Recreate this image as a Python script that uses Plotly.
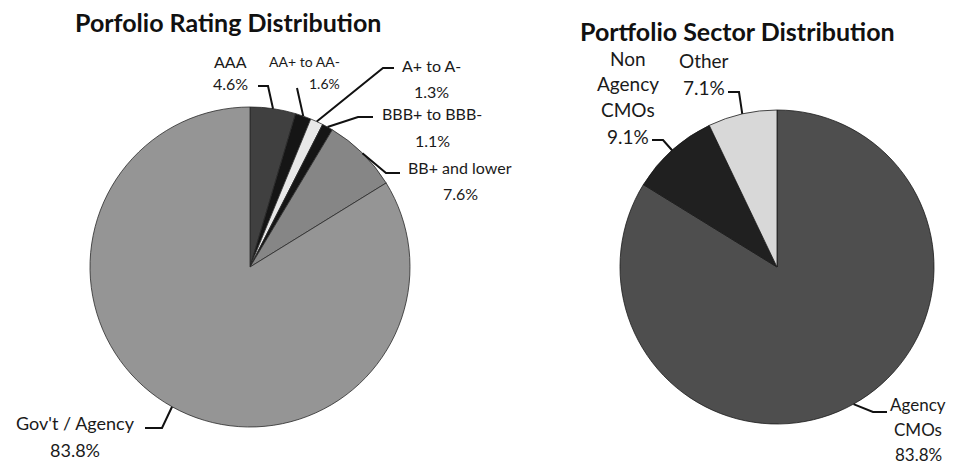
import math
import plotly.graph_objects as go

# ---------------- data ----------------
rating_labels = ["AAA", "AA+ to AA-", "A+ to A-", "BBB+ to BBB-", "BB+ and lower", "Gov't / Agency"]
rating_values = [4.6, 1.6, 1.3, 1.1, 7.6, 83.8]

sector_labels = ["Agency CMOs", "Non Agency CMOs", "Other"]
sector_values = [83.8, 9.1, 7.1]

titles = ["Porfolio Rating Distribution", "Portfolio Sector Distribution"]

# ---------------- layout constants ----------------
OFF = 8                      # default page body margin
W, H = 954 - OFF, 466 - OFF  # figure size so it fits the window
FONT = "Lato, 'Open Sans', sans-serif"
TXT = "#1a1a1a"

rating_colors = ["#404040", "#151515", "#e8e8e8", "#151515", "#868686", "#959595"]
sector_colors = ["#4e4e4e", "#202020", "#d8d8d8"]

# centres / radii in window pixels
L_C, L_R = (250, 267), 160
R_C, R_R = (777, 267), 157


def px(x):
    return (x - OFF) / W


def py(y):
    return 1 - (y - OFF) / H


def domain(c, r):
    return dict(x=[px(c[0] - r), px(c[0] + r)], y=[py(c[1] + r), py(c[1] - r)])


def anchor(c, r, values, i):
    tot = sum(values)
    frac = (sum(values[:i]) + values[i] / 2) / tot
    a = 2 * math.pi * frac
    return c[0] + r * math.sin(a), c[1] - r * math.cos(a)


fig = go.Figure()
fig.add_trace(go.Pie(
    labels=rating_labels, values=rating_values, sort=False, direction="clockwise",
    rotation=0, textinfo="none", hoverinfo="label+percent",
    marker=dict(colors=rating_colors, line=dict(color="#2a2a2a", width=0.8)),
    domain=domain(L_C, L_R), showlegend=False,
))
fig.add_trace(go.Pie(
    labels=sector_labels, values=sector_values, sort=False, direction="clockwise",
    rotation=0, textinfo="none", hoverinfo="label+percent",
    marker=dict(colors=sector_colors, line=dict(color="#1a1a1a", width=0.8)),
    domain=domain(R_C, R_R), showlegend=False,
))

# label placement: (name lines, x, y of first line, gap, font size, xanchor, leader start, elbow x)
rating_place = [
    (["AAA"], 230, 62, 21, 16, "center", (258, 86), 268),
    (["AA+ to AA-"], 342, 62, 21, 14, "right", (297, 88), 297),
    (["A+ to A-"], 431, 65, 27, 16, "center", (394, 68), 383),
    (["BBB+ to BBB-"], 432, 113, 27, 16, "center", (373, 117), 358),
    (["BB+ and lower"], 460, 167, 26, 16, "center", (400, 173), 386),
    (["Gov't / Agency"], 75, 423, 27, 18, "center", (145, 428), 162),
]
sector_place = [
    (["Agency", "CMOs"], 918, 404, 25, 17, "center", (887, 412), 873),
    (["Non", "Agency", "CMOs"], 628, 58, 26, 19, "center", (652, 140), 663),
    (["Other"], 704, 60, 28, 19, "center", (728, 92), 739),
]

annotations = []
shapes = []


def add_labels(values, place, c, r):
    tot = sum(values)
    for i, (name_lines, x, y0, gap, fs, xa, start, ex) in enumerate(place):
        lines = name_lines + [f"{values[i] / tot * 100:.1f}%"]
        for k, t in enumerate(lines):
            annotations.append(dict(
                text=t, x=px(x), y=py(y0 + k * gap), xref="paper", yref="paper",
                xanchor=xa, yanchor="middle", showarrow=False,
                font=dict(family=FONT, size=fs, color=TXT),
            ))
        ax, ay = anchor(c, r, values, i)
        path = f"M {px(start[0])} {py(start[1])} L {px(ex)} {py(start[1])} L {px(ax)} {py(ay)}"
        shapes.append(dict(type="path", path=path, xref="paper", yref="paper",
                           line=dict(color="#111111", width=2)))


add_labels(rating_values, rating_place, L_C, L_R)
add_labels(sector_values, sector_place, R_C, R_R)

annotations.append(dict(text=f"<b>{titles[0]}</b>", x=px(228), y=py(22), xref="paper", yref="paper",
                        xanchor="center", yanchor="middle", showarrow=False,
                        font=dict(family=FONT, size=25, color="#111111")))
annotations.append(dict(text=f"<b>{titles[1]}</b>", x=px(737), y=py(31), xref="paper", yref="paper",
                        xanchor="center", yanchor="middle", showarrow=False,
                        font=dict(family=FONT, size=25, color="#111111")))

fig.update_layout(
    width=W, height=H, margin=dict(l=0, r=0, t=0, b=0),
    paper_bgcolor="white", plot_bgcolor="white",
    annotations=annotations, shapes=shapes,
)

fig.write_html("out.html")
